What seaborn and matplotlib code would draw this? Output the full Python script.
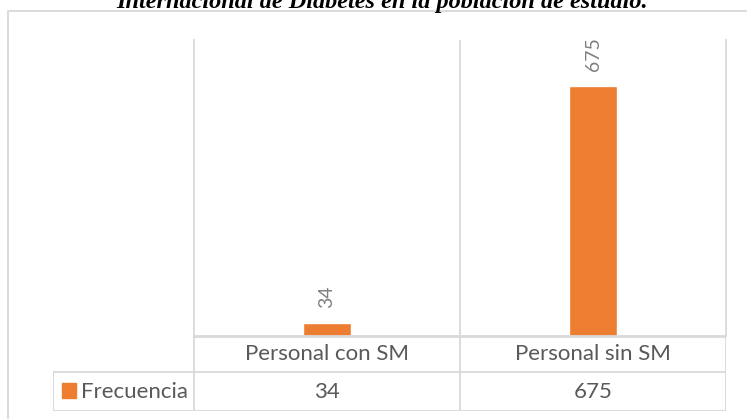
import matplotlib
matplotlib.use("Agg")
import matplotlib.pyplot as plt
import seaborn as sns
from matplotlib.patches import Rectangle

# data
categories = ["Personal con SM", "Personal sin SM"]
values = [34, 675]
series_name = "Frecuencia"
title = "Internacional de Diabetes en la población de estudio."

orange = "#ED7D31"
grid = "#D9D9D9"
txt = "#595959"
lbl = "#808080"

sns.set_theme(style="white")
plt.rcParams["font.family"] = ["Lato", "DejaVu Sans"]

W, H = 747, 419
fig = plt.figure(figsize=(W / 100, H / 100), dpi=100)

def fx(px):
    return px / W

def fy(py):
    return 1 - py / H

# outer chart border (runs off right/bottom edge)
fig.add_artist(Rectangle((fx(8), fy(425)), fx(760) - fx(8), fy(11) - fy(425),
                         transform=fig.transFigure, fill=False, edgecolor=grid, lw=1.3))

fig.text(fx(382), fy(8), title, ha="center", va="baseline",
         family="Liberation Serif", weight="bold", style="italic", fontsize=17.5, color="black")

# plot area
ax = fig.add_axes([fx(194), fy(336), fx(726) - fx(194), fy(40) - fy(336)])
sns.barplot(x=categories, y=values, color=orange, saturation=1, width=0.184, ax=ax)
ax.set_xlim(-0.5, 1.5)
ax.set_ylim(0, 800)
ax.set_xticks([])
ax.set_yticks([])
ax.set_xlabel("")
ax.set_ylabel("")
for s in ["left", "right", "bottom"]:
    ax.spines[s].set_color(grid)
    ax.spines[s].set_linewidth(1.3)
ax.spines["top"].set_visible(False)
ax.axvline(0.5, color=grid, lw=1.3)
ax.bar_label(ax.containers[0], rotation=90, padding=11, color=lbl, fontsize=14)

# data table under the axis
tab = fig.add_axes([fx(53), fy(411), fx(726) - fx(53), fy(336) - fy(411)])
tab.set_xlim(53, 726)
tab.set_ylim(411, 336)
tab.axis("off")
cell_w = (726 - 194) / len(categories)
lk = dict(color=grid, lw=1.3, solid_capstyle="butt")
tab.plot([194, 726], [337, 337], **lk)
tab.plot([53, 726], [372, 372], **lk)
tab.plot([53, 726], [410.5, 410.5], **lk)
tab.plot([53.5, 53.5], [372, 411], **lk)
for i in range(len(categories) + 1):
    x = 194 + i * cell_w
    tab.plot([x, x], [336, 411], **lk)
for i, (c, v) in enumerate(zip(categories, values)):
    xc = 194 + (i + 0.5) * cell_w
    tab.text(xc, 354, c, ha="center", va="center", color=txt, fontsize=16)
    tab.text(xc, 391.5, str(v), ha="center", va="center", color=txt, fontsize=16)
tab.add_patch(Rectangle((62, 383), 14, 15, color=orange))
tab.text(81, 391.5, series_name, ha="left", va="center", color=txt, fontsize=16)

fig.savefig("out.png", dpi=100)
